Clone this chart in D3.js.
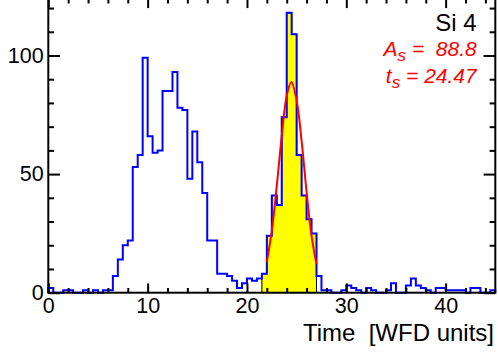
<!DOCTYPE html>
<html>
<head>
<meta charset="utf-8">
<script src="https://cdn.jsdelivr.net/npm/d3@7"></script>
<style>
  body { margin: 0; background: #fff; }
  text { font-family: "Liberation Sans", Arial, Helvetica, sans-serif; }
</style>
</head>
<body>
<svg id="chart"></svg>
<script>
// histogram: 90 bins of 0.5 WFD units, counts
var binWidth = 0.5;
var counts = [
  2, 0, 0, 1, 1, 0, 0, 1, 0, 1,
  0, 1, 1, 7, 14, 20, 22, 53, 58, 99,
  66, 59, 60, 85, 85, 93, 78, 77, 48, 68,
  55, 42, 22, 22, 8, 8, 7, 5, 2, 4,
  6, 5, 6, 8, 24, 41, 37, 74, 118, 109,
  58, 41, 31, 25, 7, 1, 1, 0, 0, 1,
  3, 2, 1, 0, 2, 1, 0, 0, 1, 4,
  0, 0, 3, 6, 3, 2, 1, 0, 2, 2,
  1, 1, 1, 1, 0, 2, 2, 0, 0, 1
];
// yellow (signal) window
var windowLow = 21.5, windowHigh = 27;
// red fit curve
var fitX = [22, 22.5, 23, 23.5, 24, 24.47, 25, 25.5, 26, 26.5, 27];
var fitY = [13, 26, 45, 66, 83, 88.8, 81, 64, 42.5, 24, 12];

var xMajor = [0, 10, 20, 30, 40];
var yMajor = [0, 50, 100];
var label = "Si 4";
var ampText = "88.8", timeText = "24.47";
var xTitle = "Time  [WFD units]";

var width = 498, height = 355;
var svg = d3.select('#chart').attr('width', width).attr('height', height);

var x = d3.scaleLinear().domain([0, 45]).range([48.3, 495.3]);
var y = d3.scaleLinear().domain([0, 123.9]).range([292.7, -1.2]);

var bins = counts.map(function(c, i) { return {x0: i * binWidth, x1: (i + 1) * binWidth, n: c}; });

function stepPoints(list) {
  var pts = [[list[0].x0, 0]];
  list.forEach(function(b) { pts.push([b.x0, b.n]); pts.push([b.x1, b.n]); });
  pts.push([list[list.length - 1].x1, 0]);
  return pts;
}
var line = d3.line().x(function(d) { return x(d[0]); }).y(function(d) { return y(d[1]); });

// yellow filled part
var inWin = bins.filter(function(b) { return b.x0 >= windowLow - 1e-9 && b.x1 <= windowHigh + 1e-9; });
svg.append('path').attr('d', line(stepPoints(inWin)) + 'Z')
  .attr('fill', '#ffff00').attr('stroke', '#000').attr('stroke-width', 1);

// full histogram
svg.append('path').attr('d', line(stepPoints(bins)))
  .attr('fill', 'none').attr('stroke', '#0000ff').attr('stroke-width', 2);

// fit
var fitLine = d3.line().x(function(d) { return x(d[0]); }).y(function(d) { return y(d[1]); })
  .curve(d3.curveCatmullRom);
svg.append('path').attr('d', fitLine(fitX.map(function(v, i) { return [v, fitY[i]]; })))
  .attr('fill', 'none').attr('stroke', '#ff0000').attr('stroke-width', 2);

// axes
var xMinor = d3.range(0, 45.01, 2).filter(function(v) { return v % 10 !== 0; });
var yMinor = d3.range(0, 124, 10).filter(function(v) { return v % 50 !== 0; });

function styleAxis(g) {
  g.select('.domain').remove();
  g.selectAll('line').attr('stroke', '#000').attr('stroke-width', 2);
  g.selectAll('text').attr('fill', '#000').attr('font-size', 21.5)
    .attr('font-family', '"Liberation Sans", Arial, sans-serif');
}

svg.append('g').attr('transform', 'translate(0,' + y(0) + ')')
  .call(d3.axisBottom(x).tickValues(xMajor).tickSizeInner(-9.3).tickSizeOuter(0).tickPadding(5))
  .call(styleAxis);
svg.append('g').attr('transform', 'translate(0,' + y(0) + ')')
  .call(d3.axisBottom(x).tickValues(xMinor).tickFormat('').tickSizeInner(-4.7).tickSizeOuter(0))
  .call(styleAxis);
svg.append('g').attr('transform', 'translate(0,' + y(123.9) + ')')
  .call(d3.axisTop(x).tickValues(xMajor).tickFormat('').tickSizeInner(-9.3).tickSizeOuter(0))
  .call(styleAxis);
svg.append('g').attr('transform', 'translate(0,' + y(123.9) + ')')
  .call(d3.axisTop(x).tickValues(xMinor).tickFormat('').tickSizeInner(-4.7).tickSizeOuter(0))
  .call(styleAxis);

svg.append('g').attr('transform', 'translate(' + x(0) + ',0)')
  .call(d3.axisLeft(y).tickValues(yMajor).tickSizeInner(-11.7).tickSizeOuter(0).tickPadding(4.6))
  .call(styleAxis);
svg.append('g').attr('transform', 'translate(' + x(0) + ',0)')
  .call(d3.axisLeft(y).tickValues(yMinor).tickFormat('').tickSizeInner(-5.7).tickSizeOuter(0))
  .call(styleAxis);
svg.append('g').attr('transform', 'translate(' + x(45) + ',0)')
  .call(d3.axisRight(y).tickValues(yMajor).tickFormat('').tickSizeInner(-11.7).tickSizeOuter(0))
  .call(styleAxis);
svg.append('g').attr('transform', 'translate(' + x(45) + ',0)')
  .call(d3.axisRight(y).tickValues(yMinor).tickFormat('').tickSizeInner(-5.7).tickSizeOuter(0))
  .call(styleAxis);

// frame
svg.append('rect').attr('x', x(0)).attr('y', y(123.9))
  .attr('width', x(45) - x(0)).attr('height', y(0) - y(123.9))
  .attr('fill', 'none').attr('stroke', '#000').attr('stroke-width', 2);

// axis title
svg.append('text').attr('x', 494).attr('y', 341).attr('text-anchor', 'end')
  .attr('font-size', 24).style('white-space', 'pre').text(xTitle);

// labels
svg.append('text').attr('x', 476.7).attr('y', 30.5).attr('text-anchor', 'end')
  .attr('font-size', 24).text(label);

function fitText(sym, val, yy) {
  var t = svg.append('text').attr('x', 476.7).attr('y', yy).attr('text-anchor', 'end')
    .attr('font-size', 21).attr('font-style', 'italic').attr('fill', '#ff0000')
    .style('white-space', 'pre');
  t.append('tspan').text(sym);
  t.append('tspan').attr('dy', 5).attr('font-size', 17).text('s');
  t.append('tspan').attr('dy', -5).text(' = ' + val);
}
fitText('A', ' ' + ampText, 56);
fitText('t', timeText, 83);
</script>
</body>
</html>
